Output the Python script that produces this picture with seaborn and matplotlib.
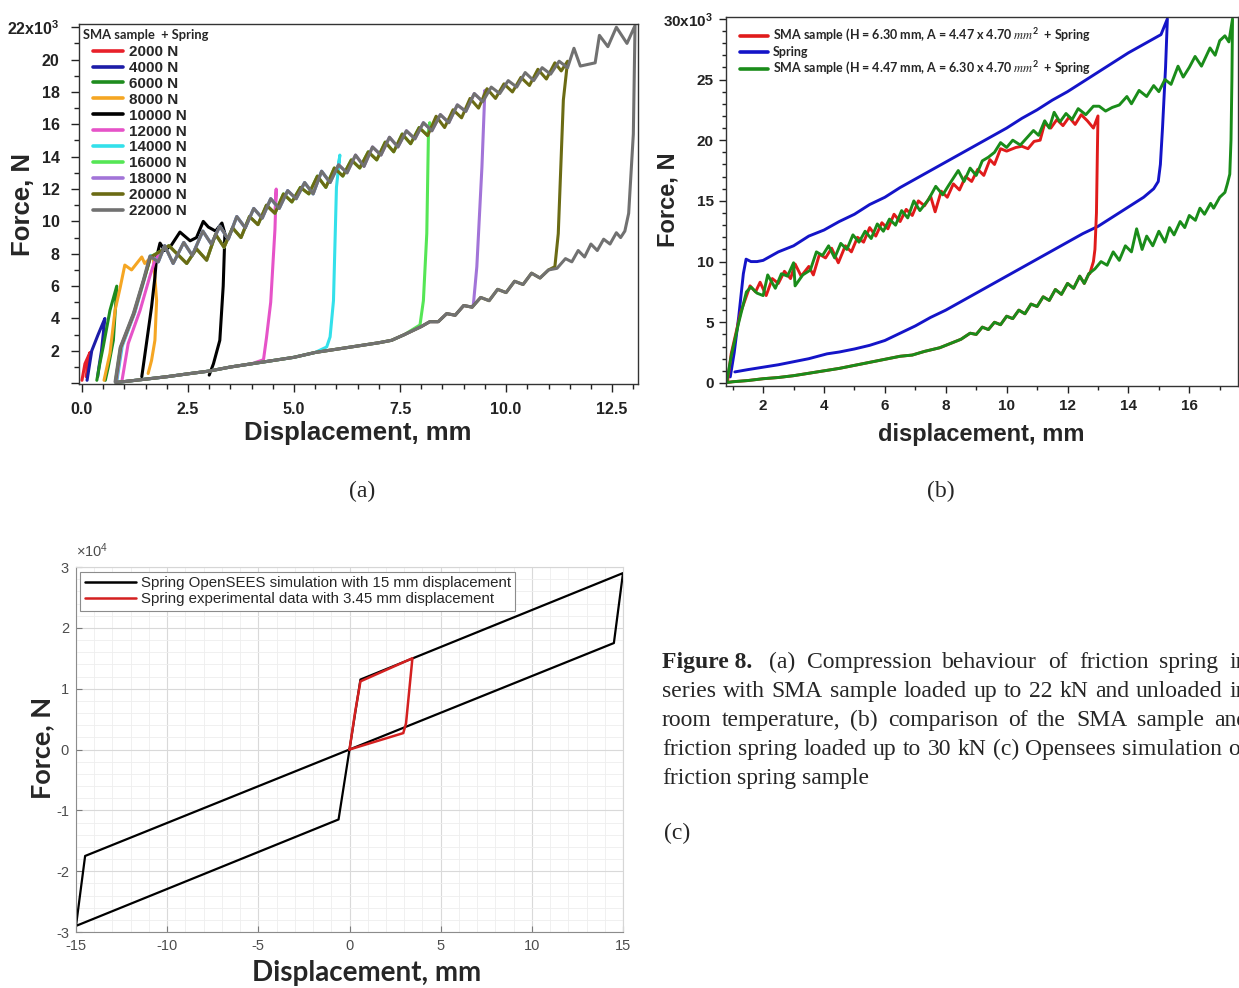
import numpy as np
import pandas as pd
import matplotlib
matplotlib.use("Agg")
import matplotlib.pyplot as plt
import seaborn as sns
from matplotlib.lines import Line2D
from matplotlib.font_manager import FontProperties
from matplotlib.ticker import MultipleLocator, FuncFormatter, FormatStrFormatter

sns.set_style("ticks")
plt.rcParams['font.family'] = ['Liberation Sans', 'DejaVu Sans']
plt.rcParams['mathtext.default'] = 'regular'
plt.rcParams['mathtext.fontset'] = 'stix'
plt.rcParams['axes.unicode_minus'] = False

# ====================== DATA ======================
# ---- Panel (a): SMA sample + spring, loads 2000..22000 N (force in kN) ----
a_labels = ["2000 N", "4000 N", "6000 N", "8000 N", "10000 N", "12000 N",
            "14000 N", "16000 N", "18000 N", "20000 N", "22000 N"]

a2000_x = [0.00, 0.07, 0.19, 0.15, 0.10]
a2000_y = [0.18, 1.20, 1.90, 1.45, 0.40]
a4000_x = [0.12, 0.23, 0.38, 0.54, 0.52, 0.46, 0.40, 0.37]
a4000_y = [0.18, 2.00, 3.00, 4.00, 3.50, 2.00, 1.00, 0.40]
a6000_x = [0.35, 0.42, 0.50, 0.66, 0.82, 0.80, 0.74, 0.62, 0.55]
a6000_y = [0.18, 1.20, 2.24, 4.50, 6.00, 5.10, 2.65, 1.00, 0.18]
a8000_x = [0.52, 0.66, 0.78, 0.90, 1.01, 1.17, 1.41, 1.48, 1.68, 1.76, 1.72, 1.64, 1.56]
a8000_y = [0.18, 1.85, 4.50, 5.90, 7.30, 7.00, 7.80, 7.40, 7.90, 5.10, 2.65, 1.40, 0.60]
a10000_x = [1.41, 1.52, 1.64, 1.72, 1.76, 1.84, 1.95, 2.10, 2.31, 2.55,
            2.70, 2.86, 2.98, 3.15, 3.30, 3.37, 3.33, 3.25, 3.10, 3.00]
a10000_y = [0.40, 2.45, 4.70, 6.56, 7.80, 8.66, 8.20, 8.50, 9.34, 8.80,
            9.00, 10.00, 9.65, 9.40, 9.90, 9.24, 6.00, 2.65, 1.20, 0.50]

# loading branches of the larger cycles
a12000_load_x = [0.94, 1.09, 1.37, 1.60, 1.72]
a12000_load_y = [0.10, 2.45, 4.50, 6.60, 7.60]
a14000_load_x = [0.82, 0.95, 1.25, 1.48, 1.62]
a14000_load_y = [0.08, 2.30, 4.40, 6.50, 7.90]
a16000_load_x = [0.80, 0.92, 1.23, 1.46, 1.61]
a16000_load_y = [0.06, 2.20, 4.30, 6.40, 7.80]
a18000_load_x = [0.81, 0.93, 1.24, 1.47, 1.62]
a18000_load_y = [0.08, 2.25, 4.35, 6.45, 7.85]
a20000_load_x = [0.79, 0.91, 1.22, 1.46, 1.62]
a20000_load_y = [0.08, 2.20, 4.30, 6.40, 7.80]
a22000_load_x = [0.78, 0.90, 1.21, 1.45, 1.60]
a22000_load_y = [0.08, 2.20, 4.30, 6.40, 7.85]

# stick-slip plateau (two traces)
a_band1_x = [1.60, 1.80, 1.95, 2.15, 2.40, 2.60, 2.85, 3.05, 3.25, 3.45,
             3.65, 3.85, 4.05, 4.25, 4.45, 4.65, 4.85, 5.05, 5.25, 5.45,
             5.65, 5.85, 6.05, 6.25, 6.45, 6.65, 6.85, 7.05, 7.25, 7.45,
             7.65, 7.85, 8.05, 8.25, 8.45, 8.65, 8.85, 9.05, 9.25, 9.45,
             9.65, 9.85, 10.05, 10.25, 10.45, 10.65, 10.85, 11.05, 11.25, 11.45,
             11.60, 11.75, 12.10, 12.20, 12.40, 12.60, 12.85]
a_band1_y = [7.85, 7.50, 8.50, 7.40, 8.70, 7.90, 9.40, 8.60, 9.70, 8.90,
             10.30, 9.60, 10.80, 10.20, 11.40, 10.80, 11.90, 11.40, 12.40, 11.70,
             13.10, 12.40, 13.50, 13.00, 14.10, 13.40, 14.60, 14.10, 15.20, 14.60,
             15.60, 15.10, 16.10, 15.60, 16.60, 16.10, 17.20, 16.80, 17.90, 17.40,
             18.30, 17.90, 18.70, 18.30, 19.20, 18.70, 19.50, 19.10, 19.90, 19.50,
             20.70, 19.60, 19.80, 21.50, 20.80, 22.00, 21.00]
a_band2_x = [1.60, 1.88, 2.05, 2.47, 2.70, 2.94, 3.15, 3.35, 3.55, 3.75,
             3.95, 4.15, 4.35, 4.55, 4.75, 4.95, 5.15, 5.35, 5.55, 5.75,
             5.95, 6.15, 6.35, 6.55, 6.75, 6.95, 7.15, 7.35, 7.55, 7.75,
             7.95, 8.15, 8.35, 8.55, 8.75, 8.95, 9.15, 9.35, 9.55, 9.75,
             9.95, 10.15, 10.35, 10.55, 10.75, 10.95, 11.15, 11.30, 11.45]
a_band2_y = [7.70, 8.20, 8.50, 7.40, 8.30, 7.60, 9.20, 8.40, 9.60, 9.00,
             10.30, 9.80, 11.00, 10.50, 11.70, 11.20, 12.10, 11.70, 12.80, 12.10,
             13.30, 12.80, 13.80, 13.30, 14.30, 13.80, 14.90, 14.30, 15.40, 14.80,
             15.80, 15.30, 16.50, 15.80, 16.90, 16.40, 17.60, 17.00, 18.20, 17.60,
             18.50, 18.00, 18.90, 18.40, 19.40, 18.80, 19.80, 19.30, 19.90]

# unloading drops
a12000_drop_x = [4.58, 4.55, 4.45, 4.35, 4.28]
a12000_drop_y = [12.00, 9.50, 5.00, 2.80, 1.45]
a14000_drop_x = [6.08, 6.00, 5.93, 5.85, 5.77]
a14000_drop_y = [14.10, 12.10, 5.10, 2.86, 2.24]
a16000_drop_x = [8.20, 8.17, 8.13, 8.05, 7.97]
a16000_drop_y = [16.10, 15.60, 9.25, 5.10, 3.60]
a18000_drop_x = [9.50, 9.43, 9.31, 9.23]
a18000_drop_y = [18.10, 13.35, 7.20, 4.90]
a20000_drop_x = [11.45, 11.35, 11.23, 11.15]
a20000_drop_y = [19.90, 17.50, 9.24, 7.20]
a22000_drop_x = [13.04, 13.00, 12.89, 12.80]
a22000_drop_y = [22.10, 15.40, 10.50, 9.40]

# common unloading branch (decreasing displacement)
a_low_x = [12.70, 12.60, 12.45, 12.30, 12.15, 12.00, 11.85, 11.70, 11.55, 11.40,
           11.20, 11.00, 10.80, 10.60, 10.40, 10.20, 10.00, 9.80, 9.60, 9.40,
           9.20, 9.00, 8.80, 8.60, 8.40, 8.20, 8.00, 7.60, 7.30, 7.00,
           6.50, 6.00, 5.50, 5.00, 4.50, 4.00, 3.50, 3.00, 2.50, 2.00,
           1.50, 1.00, 0.80]
a_low_y = [9.00, 9.30, 8.60, 8.90, 8.20, 8.60, 7.80, 8.20, 7.50, 7.70,
           7.10, 7.00, 6.50, 6.80, 6.10, 6.30, 5.60, 5.80, 5.10, 5.30,
           4.70, 4.80, 4.20, 4.30, 3.80, 3.80, 3.50, 3.00, 2.65, 2.50,
           2.30, 2.10, 1.90, 1.60, 1.40, 1.20, 1.00, 0.75, 0.58, 0.40,
           0.25, 0.10, 0.05]

# ---- Panel (b): comparison (force in kN) ----
b_labels = ["SMA sample (H = 6.30 mm, A = 4.47 x 4.70 $\\mathit{mm}^2$  + Spring",
            "Spring",
            "SMA sample (H = 4.47 mm, A = 6.30 x 4.70 $\\mathit{mm}^2$  + Spring"]

b_red_up_x = [0.83, 0.95, 1.26, 1.57, 1.75, 1.90, 2.10, 2.30, 2.50, 2.70,
              2.90, 3.05, 3.25, 3.50, 3.65, 3.85, 4.05, 4.25, 4.47, 4.70,
              4.90, 5.10, 5.30, 5.50, 5.70, 5.90, 6.10, 6.30, 6.50, 6.70,
              6.90, 7.10, 7.30, 7.50, 7.65, 7.85, 8.05, 8.25, 8.45, 8.65,
              8.85, 9.05, 9.25, 9.45, 9.60, 9.80, 10.00, 10.30, 10.50, 10.70,
              10.90, 11.10, 11.25, 11.45, 11.65, 11.85, 12.05, 12.25, 12.45, 12.65,
              12.85, 13.00]
b_red_up_y = [0.10, 2.40, 5.80, 8.00, 7.50, 8.30, 7.20, 8.60, 8.20, 9.20,
              8.60, 9.80, 8.80, 9.60, 8.90, 10.60, 10.30, 11.10, 9.90, 11.30,
              10.80, 12.00, 11.60, 12.80, 12.10, 13.20, 12.70, 13.90, 13.30, 14.30,
              13.80, 15.00, 14.60, 15.40, 14.10, 15.80, 15.30, 16.40, 15.90, 17.00,
              16.60, 17.60, 17.10, 18.40, 18.00, 19.30, 19.10, 19.40, 19.50, 19.30,
              19.90, 20.00, 21.40, 21.00, 21.70, 21.20, 21.90, 21.30, 22.10, 21.60,
              21.00, 22.00]
b_red_drop_x = [12.98, 12.95, 12.90, 12.85, 12.73]
b_red_drop_y = [19.00, 14.00, 11.00, 10.00, 9.00]

b_green_up_x = [0.80, 0.95, 1.20, 1.45, 1.60, 1.80, 2.00, 2.15, 2.40, 2.60,
                2.80, 3.00, 3.05, 3.30, 3.55, 3.75, 3.95, 4.15, 4.35, 4.55,
                4.75, 4.95, 5.15, 5.35, 5.55, 5.75, 5.95, 6.15, 6.35, 6.55,
                6.75, 6.95, 7.15, 7.43, 7.67, 7.90, 8.10, 8.41, 8.60, 8.80,
                9.00, 9.20, 9.40, 9.60, 9.80, 10.00, 10.20, 10.45, 10.63, 10.88,
                11.05, 11.25, 11.40, 11.56, 11.75, 11.95, 12.15, 12.35, 12.60, 12.85,
                13.04, 13.25, 13.47, 13.70, 13.95, 14.10, 14.35, 14.60, 14.83, 15.00,
                15.20, 15.40, 15.63, 15.80, 16.00, 16.19, 16.40, 16.68, 16.85, 17.00,
                17.17, 17.30, 17.42]
b_green_up_y = [0.05, 2.20, 5.00, 7.50, 7.90, 7.40, 7.20, 8.90, 7.80, 9.00,
                8.80, 9.90, 8.00, 8.90, 9.30, 10.80, 10.50, 11.30, 10.30, 11.50,
                11.00, 12.20, 11.60, 12.50, 11.90, 13.10, 12.50, 13.50, 13.00, 14.20,
                13.60, 15.00, 14.20, 15.10, 16.20, 15.50, 16.30, 17.50, 16.60, 17.70,
                17.10, 18.30, 18.60, 19.00, 19.80, 19.40, 20.00, 19.60, 20.10, 20.80,
                20.40, 21.60, 21.00, 22.30, 21.50, 22.20, 21.70, 22.60, 22.10, 22.80,
                22.80, 22.40, 22.70, 22.90, 23.60, 23.00, 24.10, 23.60, 24.50, 24.00,
                25.00, 24.60, 26.10, 25.20, 26.00, 26.90, 26.10, 27.60, 27.00, 28.20,
                28.60, 28.10, 30.00]
b_green_drop_x = [17.40, 17.37, 17.33, 17.25, 17.17]
b_green_drop_y = [25.00, 20.00, 17.20, 16.40, 15.70]
b_green_low_x = [17.00, 16.80, 16.70, 16.50, 16.35, 16.20, 16.00, 15.85, 15.70, 15.50,
                 15.35, 15.20, 15.00, 14.80, 14.60, 14.45, 14.27, 14.10, 13.90, 13.70,
                 13.50, 13.30, 13.10, 12.90]
b_green_low_y = [15.30, 14.40, 14.80, 13.90, 14.40, 13.40, 13.80, 12.80, 13.30, 12.20,
                 12.80, 11.60, 12.50, 11.30, 12.10, 11.00, 12.70, 10.80, 11.30, 10.10,
                 10.80, 9.70, 10.00, 9.40]

b_low_x = [12.70, 12.55, 12.40, 12.20, 12.00, 11.80, 11.60, 11.40, 11.20, 11.00,
           10.80, 10.60, 10.40, 10.20, 10.00, 9.80, 9.60, 9.40, 9.20, 9.00,
           8.80, 8.50, 8.20, 7.80, 7.30, 6.90, 6.50, 6.00, 5.50, 5.00,
           4.50, 4.00, 3.50, 3.00, 2.50, 2.00, 1.50, 1.00, 0.85]
b_low_y = [9.00, 8.20, 8.80, 7.80, 8.20, 7.30, 7.70, 6.80, 7.10, 6.30,
           6.50, 5.70, 6.00, 5.30, 5.50, 4.80, 5.00, 4.40, 4.60, 4.00,
           4.10, 3.60, 3.30, 2.90, 2.60, 2.30, 2.20, 1.95, 1.70, 1.45,
           1.20, 1.00, 0.80, 0.60, 0.45, 0.35, 0.20, 0.10, 0.05]

b_blue_up_x = [0.92, 1.05, 1.20, 1.35, 1.44, 1.60, 1.80, 2.00, 2.50, 3.00,
               3.50, 4.00, 4.50, 5.00, 5.50, 6.00, 6.50, 7.00, 7.50, 8.00,
               8.50, 9.00, 9.50, 10.00, 10.50, 11.00, 11.50, 12.00, 12.50, 13.00,
               13.50, 14.00, 14.50, 15.07, 15.28]
b_blue_up_y = [0.50, 2.50, 5.50, 9.00, 10.20, 10.00, 10.00, 10.10, 10.80, 11.30,
               12.10, 12.60, 13.30, 13.90, 14.70, 15.30, 16.10, 16.80, 17.50, 18.20,
               18.90, 19.60, 20.30, 21.00, 21.80, 22.50, 23.30, 24.00, 24.80, 25.60,
               26.40, 27.20, 27.90, 28.70, 30.00]
b_blue_drop_x = [15.22, 15.12, 15.05, 14.98]
b_blue_drop_y = [26.00, 21.00, 18.00, 16.60]
b_blue_low_x = [14.83, 14.50, 14.00, 13.50, 13.00, 12.50, 12.00, 11.50, 11.00, 10.50,
                10.00, 9.50, 9.00, 8.50, 8.00, 7.50, 7.00, 6.50, 6.00, 5.50,
                5.00, 4.50, 4.10, 3.50, 3.00, 2.50, 2.00, 1.50, 1.07]
b_blue_low_y = [16.00, 15.30, 14.50, 13.70, 12.90, 12.30, 11.60, 10.90, 10.20, 9.50,
                8.80, 8.10, 7.40, 6.70, 6.00, 5.40, 4.70, 4.10, 3.50, 3.10,
                2.80, 2.55, 2.40, 2.00, 1.75, 1.50, 1.30, 1.10, 0.91]

# ---- Panel (c): OpenSEES simulation vs experiment (force in N) ----
c_labels = ["Spring OpenSEES simulation with 15 mm displacement",
            "Spring experimental data with 3.45 mm displacement"]
c_sim_x = [0.0, 0.6, 15.0, 14.5, -14.5, -15.0, -0.6, 0.0]
c_sim_y = [0, 11500, 29000, 17500, -17500, -29000, -11500, 0]
c_exp_x = [0.0, 0.3, 0.6, 3.45, 3.1, 2.95, 0.0]
c_exp_y = [0, 6000, 11200, 15000, 4300, 2700, 0]

# ---- texts ----
cap_lines = ["(a) Compression behaviour of friction spring in",
             "series with SMA sample loaded up to 22 kN and unloaded in",
             "room temperature, (b) comparison of the SMA sample and",
             "friction spring loaded up to 30 kN (c) Opensees simulation of",
             "friction spring sample"]

# ====================== STYLE ======================
a_colors = ["#e8202a", "#1c1ca8", "#1e8c1e", "#f5a623", "#000000", "#e653c8",
            "#33e0ea", "#55e655", "#a274d8", "#6b6b14", "#717171"]
b_colors = ["#e01b1b", "#1414c8", "#1a8c1a"]
c_colors = ["#000000", "#d42020"]

FW, FH = 1239, 988
fig = plt.figure(figsize=(FW / 100, FH / 100), dpi=100)


def ax_at(l, t, r, b):
    return fig.add_axes([l / FW, 1 - b / FH, (r - l) / FW, (b - t) / FH])


def records(name, xs, ys):
    return [(name, i, x, y) for i, (x, y) in enumerate(zip(xs, ys))]


def cycle(load_x, load_y, band_x, band_y, drop_x, drop_y, low_x, low_y):
    sel = [(x, y) for x, y in zip(band_x, band_y) if load_x[-1] < x < drop_x[0]]
    low = [(x, y) for x, y in zip(low_x, low_y) if x < drop_x[-1]]
    xs = list(load_x) + [p[0] for p in sel] + list(drop_x) + [p[0] for p in low]
    ys = list(load_y) + [p[1] for p in sel] + list(drop_y) + [p[1] for p in low]
    return xs, ys


bold_tick = FontProperties(family='Liberation Sans', weight='bold', size=11.5)

# ---------------- Panel (a) ----------------
axA = ax_at(79, 24, 638, 384)
recA = []
recA += records(a_labels[0], a2000_x, a2000_y)
recA += records(a_labels[1], a4000_x, a4000_y)
recA += records(a_labels[2], a6000_x, a6000_y)
recA += records(a_labels[3], a8000_x, a8000_y)
recA += records(a_labels[4], a10000_x, a10000_y)
recA += records(a_labels[5], *cycle(a12000_load_x, a12000_load_y, a_band2_x, a_band2_y,
                                    a12000_drop_x, a12000_drop_y, a_low_x, a_low_y))
recA += records(a_labels[6], *cycle(a14000_load_x, a14000_load_y, a_band1_x, a_band1_y,
                                    a14000_drop_x, a14000_drop_y, a_low_x, a_low_y))
recA += records(a_labels[7], *cycle(a16000_load_x, a16000_load_y, a_band2_x, a_band2_y,
                                    a16000_drop_x, a16000_drop_y, a_low_x, a_low_y))
recA += records(a_labels[8], *cycle(a18000_load_x, a18000_load_y, a_band1_x, a_band1_y,
                                    a18000_drop_x, a18000_drop_y, a_low_x, a_low_y))
recA += records(a_labels[9], *cycle(a20000_load_x, a20000_load_y, a_band2_x, a_band2_y,
                                    a20000_drop_x, a20000_drop_y, a_low_x, a_low_y))
recA += records(a_labels[10], *cycle(a22000_load_x, a22000_load_y, a_band1_x, a_band1_y,
                                     a22000_drop_x, a22000_drop_y, a_low_x, a_low_y))
dfA = pd.DataFrame(recA, columns=['curve', 'order', 'x', 'y'])
sns.lineplot(data=dfA, x='x', y='y', hue='curve', hue_order=a_labels,
             palette=dict(zip(a_labels, a_colors)), sort=False, estimator=None,
             linewidth=2.2, legend=False, ax=axA)
axA.set_xlim(-0.07, 13.11)
axA.set_ylim(-0.05, 22.2)
axA.xaxis.set_major_locator(MultipleLocator(2.5))
axA.xaxis.set_minor_locator(MultipleLocator(0.5))
axA.xaxis.set_major_formatter(FormatStrFormatter('%.1f'))
axA.yaxis.set_major_locator(MultipleLocator(2))
axA.yaxis.set_minor_locator(MultipleLocator(1))


def fmt_a(v, pos):
    if abs(v - 22) < 1e-6:
        return r"22x10$^{3}$"
    if abs(v) < 1e-6:
        return ""
    return f"{v:.0f}"


axA.yaxis.set_major_formatter(FuncFormatter(fmt_a))
axA.tick_params(which='major', direction='out', length=6, width=1, colors='#222222')
axA.tick_params(which='minor', direction='out', length=3.5, width=1, colors='#222222')
axA.tick_params(axis='y', which='major', pad=8)
axA.tick_params(axis='x', which='major', pad=7)
for lbl in axA.get_xticklabels() + axA.get_yticklabels():
    lbl.set_fontproperties(bold_tick)
for s in axA.spines.values():
    s.set_color('#333333')
    s.set_linewidth(1.0)
axA.set_xlabel("Displacement, mm", fontsize=18.5, fontweight='bold')
axA.set_ylabel("Force, N", fontsize=18.5, fontweight='bold')
axA.xaxis.set_label_coords((358 - 79) / 559, (384 - 433) / 360)
axA.xaxis.label.set_va('center')
axA.yaxis.set_label_coords((23 - 79) / 559, (384 - 205) / 360)
axA.yaxis.label.set_va('center')
axA.text((83 - 79) / 559, (384 - 35) / 360, "SMA sample  + Spring", transform=axA.transAxes,
         ha='left', va='center', fontproperties=FontProperties(family='Lato', weight='bold', size=9.3))
hA = [Line2D([0], [0], color=c, lw=2.6) for c in a_colors]
axA.legend(hA, a_labels, loc='upper left', bbox_to_anchor=((93 - 79) / 559, (384 - 45) / 360),
           frameon=False, prop=FontProperties(family='Liberation Sans', weight='bold', size=11),
           handlelength=1.95, handletextpad=0.4, labelspacing=0.125, borderpad=0, borderaxespad=0)

# ---------------- Panel (b) ----------------
axB = ax_at(726, 17, 1238, 386)
red_x, red_y = cycle(b_red_up_x, b_red_up_y, [], [], b_red_drop_x, b_red_drop_y, b_low_x, b_low_y)
grn_x, grn_y = cycle(b_green_up_x, b_green_up_y, [], [], b_green_drop_x, b_green_drop_y,
                     [], [])
grn_x = grn_x + b_green_low_x + [x for x in b_low_x if x < b_green_low_x[-1]]
grn_y = grn_y + b_green_low_y + [y for x, y in zip(b_low_x, b_low_y) if x < b_green_low_x[-1]]
blu_x = b_blue_up_x + b_blue_drop_x + b_blue_low_x
blu_y = b_blue_up_y + b_blue_drop_y + b_blue_low_y
recB = records(b_labels[0], red_x, red_y) + records(b_labels[1], blu_x, blu_y) + \
    records(b_labels[2], grn_x, grn_y)
dfB = pd.DataFrame(recB, columns=['curve', 'order', 'x', 'y'])
sns.lineplot(data=dfB, x='x', y='y', hue='curve', hue_order=[b_labels[1], b_labels[0], b_labels[2]],
             palette=dict(zip(b_labels, b_colors)), sort=False, estimator=None,
             linewidth=2.1, legend=False, ax=axB)
axB.set_xlim(0.78, 17.6)
axB.set_ylim(-0.25, 30.15)
axB.xaxis.set_major_locator(MultipleLocator(2))
axB.xaxis.set_minor_locator(MultipleLocator(1))
axB.yaxis.set_major_locator(MultipleLocator(5))
axB.yaxis.set_minor_locator(MultipleLocator(1))
axB.xaxis.set_major_formatter(FormatStrFormatter('%d'))


def fmt_b(v, pos):
    if abs(v - 30) < 1e-6:
        return r"30x10$^{3}$"
    return f"{v:.0f}"


axB.yaxis.set_major_formatter(FuncFormatter(fmt_b))
axB.tick_params(which='major', direction='out', length=5, width=1, colors='#222222', pad=4)
axB.tick_params(which='minor', direction='out', length=3, width=1, colors='#222222')
for lbl in axB.get_xticklabels() + axB.get_yticklabels():
    lbl.set_fontproperties(FontProperties(family='Liberation Sans', weight='bold', size=11))
for s in axB.spines.values():
    s.set_color('#333333')
    s.set_linewidth(1.0)
axB.set_xlabel("displacement, mm", fontsize=17, fontweight='bold')
axB.set_ylabel("Force, N", fontsize=17, fontweight='bold')
axB.xaxis.set_label_coords((981 - 726) / 512, (386 - 435) / 369)
axB.xaxis.label.set_va('center')
axB.yaxis.set_label_coords((668 - 726) / 512, (386 - 200) / 369)
axB.yaxis.label.set_va('center')
hB = [Line2D([0], [0], color=c, lw=2.6) for c in b_colors]
axB.legend(hB, b_labels, loc='upper left', bbox_to_anchor=((740 - 726) / 512, (386 - 27) / 369),
           frameon=False, prop=FontProperties(family='Lato', weight='bold', size=9),
           handlelength=2.25, handletextpad=0.4, labelspacing=0.15, borderpad=0, borderaxespad=0)

# ---------------- Panel (c) ----------------
axC = ax_at(76, 567, 623, 932)
dfC1 = pd.DataFrame(records(c_labels[0], c_sim_x, c_sim_y), columns=['curve', 'order', 'x', 'y'])
dfC2 = pd.DataFrame(records(c_labels[1], c_exp_x, c_exp_y), columns=['curve', 'order', 'x', 'y'])
sns.lineplot(data=dfC1, x='x', y='y', color=c_colors[0], sort=False, estimator=None,
             linewidth=1.6, legend=False, ax=axC)
sns.lineplot(data=dfC2, x='x', y='y', color=c_colors[1], sort=False, estimator=None,
             linewidth=1.8, legend=False, ax=axC)
axC.set_xlim(-15, 15)
axC.set_ylim(-30000, 30000)
axC.xaxis.set_major_locator(MultipleLocator(5))
axC.xaxis.set_minor_locator(MultipleLocator(1))
axC.yaxis.set_major_locator(MultipleLocator(10000))
axC.yaxis.set_minor_locator(MultipleLocator(2000))
axC.yaxis.set_major_formatter(FuncFormatter(lambda v, p: f"{v / 1e4:.0f}"))
axC.xaxis.set_major_formatter(FuncFormatter(lambda v, p: f"{v:.0f}"))
axC.grid(which='major', color='#d9d9d9', linewidth=0.8)
axC.grid(which='minor', color='#eeeeee', linewidth=0.6)
axC.set_axisbelow(True)
axC.tick_params(which='major', direction='in', length=4, width=0.8, colors='#7a7a7a',
                labelcolor='#4d4d4d', labelsize=10.5, pad=5)
axC.tick_params(which='minor', length=0)
for side, s in axC.spines.items():
    s.set_linewidth(0.8)
    s.set_color('#8c8c8c' if side in ('left', 'bottom') else '#d6d6d6')
axC.text(0.0, 1.0 + (567 - 560) / 365, "×10$^{4}$", transform=axC.transAxes, ha='left',
         va='bottom', color='#4d4d4d', fontsize=10.5)
axC.set_xlabel("Displacement, mm", fontproperties=FontProperties(family='Lato', weight='bold', size=20))
axC.set_ylabel("Force, N", fontproperties=FontProperties(family='Lato', weight='bold', size=19.5))
axC.xaxis.set_label_coords((367 - 76) / 547, (932 - 973) / 365)
axC.xaxis.label.set_va('center')
axC.yaxis.set_label_coords((42 - 76) / 547, (932 - 748) / 365)
axC.yaxis.label.set_va('center')
hC = [Line2D([0], [0], color=c, lw=1.8) for c in c_colors]
legC = axC.legend(hC, c_labels, loc='upper left', bbox_to_anchor=((80 - 76) / 547, (932 - 572) / 365),
                  frameon=True, fancybox=False, edgecolor='#8c8c8c', framealpha=1,
                  prop=FontProperties(family='Liberation Sans', size=10.8),
                  handlelength=3.4, handletextpad=0.35, labelspacing=0.1, borderpad=0.3,
                  borderaxespad=0)
for t in legC.get_texts():
    t.set_color('#262626')
legC.get_frame().set_linewidth(0.8)

# ---------------- panel tags and caption ----------------
serif = 'Liberation Serif'
CAP_FS = 17
fig.text(362 / FW, 1 - 491 / FH, "(a)", ha='center', va='center', family=serif, fontsize=CAP_FS)
fig.text(941 / FW, 1 - 491 / FH, "(b)", ha='center', va='center', family=serif, fontsize=CAP_FS)
fig.text(677 / FW, 1 - 833 / FH, "(c)", ha='center', va='center', family=serif, fontsize=CAP_FS)

renderer = fig.canvas.get_renderer()


def place_line(words, weights, x0, ybase, width, justify):
    ts, ws = [], []
    for w, wt in zip(words, weights):
        t = fig.text(0, 0, w, family=serif, fontsize=CAP_FS, weight=wt, ha='left', va='baseline')
        ws.append(t.get_window_extent(renderer).width)
        ts.append(t)
    sp = fig.text(0, 0, "a a", family=serif, fontsize=CAP_FS)
    sp2 = fig.text(0, 0, "aa", family=serif, fontsize=CAP_FS)
    space = sp.get_window_extent(renderer).width - sp2.get_window_extent(renderer).width
    sp.remove()
    sp2.remove()
    gap = (width - sum(ws)) / (len(ws) - 1) if justify else space
    x = x0
    for t, w in zip(ts, ws):
        t.set_position((x / FW, 1 - ybase / FH))
        x += w + gap


cap_x0, cap_w = 662, 586
baselines = [668, 697, 726, 755, 784]
for i, line in enumerate(cap_lines):
    words = line.split(" ")
    weights = ['normal'] * len(words)
    if i == 0:
        words = ["Figure 8. "] + words
        weights = ['bold'] + weights
    place_line(words, weights, cap_x0, baselines[i], cap_w, justify=(i < 4))

fig.savefig("out.png", dpi=100)
